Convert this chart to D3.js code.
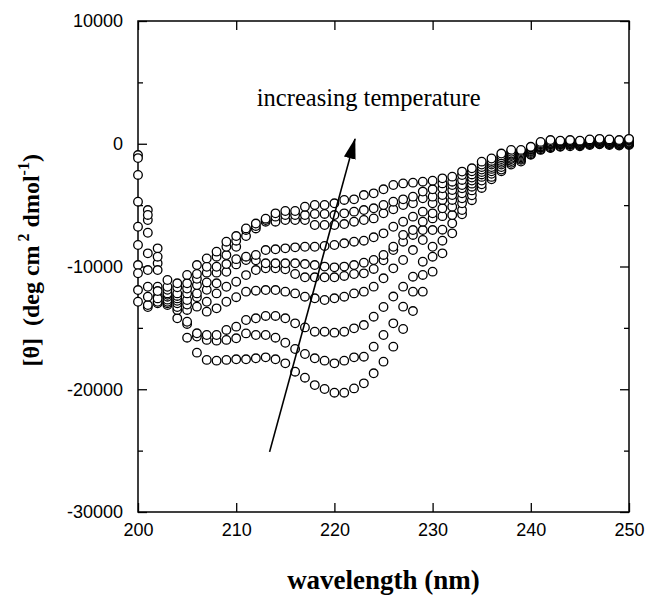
<!DOCTYPE html>
<html>
<head>
<meta charset="utf-8">
<script src="https://cdnjs.cloudflare.com/ajax/libs/d3/7.8.5/d3.min.js"></script>
<style>
body { margin: 0; background: #fff; }
text { fill: #000; }
</style>
</head>
<body>
<div id="viz"></div>
<script>
// wavelength (nm), one reading per nm
var wavelengths = [200,201,202,203,204,205,206,207,208,209,
	210,211,212,213,214,215,216,217,218,219,
	220,221,222,223,224,225,226,227,228,229,
	230,231,232,233,234,235,236,237,238,239,
	240,241,242,243,244,245,246,247,248,249,
	250];

// mean residue ellipticity, t1 = lowest temperature (bottom curve) ... t10 = highest
var t1 = [-11920,-13300,-13000,-13140,-14220,-15800,-17020,-17610,-17670,-17610,
	-17560,-17560,-17480,-17400,-17560,-17890,-18570,-19060,-19660,-19980,
	-20280,-20280,-19930,-19520,-18700,-17750,-16530,-15090,-13630,-12050,
	-10420,-8930,-7300,-5750,-4600,-3600,-2900,-2250,-1700,-1450,
	-900,-500,-350,-250,-200,-200,-100,-50,-100,-150,
	-100];
var t2 = [-12870,-13140,-12870,-13000,-13540,-14680,-15710,-15980,-16040,-15980,
	-15850,-15450,-15580,-15580,-15800,-16210,-16720,-17130,-17480,-17670,
	-17890,-17670,-17400,-17350,-16530,-15580,-14630,-13270,-12050,-10690,
	-9200,-7900,-6480,-5400,-4200,-3300,-2700,-2100,-1550,-1300,
	-850,-450,-300,-200,-100,-150,-50,0,-50,-100,
	-50];
var t3 = [-9880,-11650,-12460,-12870,-13300,-14500,-15440,-15580,-15580,-15170,
	-14900,-14360,-14220,-14030,-14030,-14220,-14630,-14960,-15310,-15310,
	-15390,-15310,-15040,-14770,-14090,-13300,-12450,-11640,-10830,-9610,
	-8390,-7000,-5810,-4850,-3800,-3000,-2450,-1900,-1400,-1200,
	-750,-350,-200,-100,-50,-100,0,50,0,-50,
	0];
var t4 = [-10550,-12460,-12600,-12700,-13000,-13540,-13270,-13680,-13410,-12870,
	-12500,-12050,-11970,-11920,-11920,-12050,-12190,-12460,-12590,-12730,
	-12590,-12460,-12190,-12050,-11640,-10960,-10150,-9470,-8660,-7840,
	-7030,-5900,-5130,-4450,-3500,-2700,-2250,-1700,-1250,-1100,
	-650,-300,-100,-50,0,-50,50,100,50,0,
	50];
var t5 = [-6760,-8930,-11650,-12460,-12800,-13100,-12500,-12870,-12190,-11650,
	-11240,-10700,-10290,-10150,-10150,-10230,-10610,-10880,-10880,-10880,
	-10880,-10770,-10610,-10560,-10200,-9500,-8660,-7980,-7430,-7030,
	-6080,-5260,-4580,-4040,-3250,-2500,-2050,-1550,-1150,-1000,
	-600,-250,-50,0,50,0,100,150,100,50,
	100];
var t6 = [-8250,-10290,-12000,-12300,-12600,-12730,-12190,-11900,-11370,-10430,
	-9830,-9470,-9500,-9740,-9740,-9740,-9740,-9800,-9880,-10010,
	-10070,-10010,-9880,-9690,-9470,-9060,-8390,-7430,-7030,-6350,
	-5670,-4580,-4180,-3630,-3000,-2300,-1900,-1400,-1000,-900,
	-500,-200,0,50,100,50,150,200,150,100,
	150];
var t7 = [-2540,-6210,-9740,-12190,-12400,-12190,-11510,-11300,-10500,-9800,
	-9400,-9200,-9060,-8660,-8600,-8520,-8440,-8390,-8390,-8330,
	-8250,-8110,-7980,-7900,-7620,-7300,-6760,-6350,-5940,-5530,
	-4850,-4180,-3770,-3360,-2750,-2100,-1700,-1250,-900,-800,
	-450,-100,50,100,150,100,200,250,200,150,
	250];
var t8 = [-4720,-7250,-10290,-11900,-12190,-11800,-11000,-10500,-10020,-9070,
	-8390,-7520,-6900,-6350,-6350,-6210,-6210,-6210,-6620,-6620,
	-6620,-6540,-6350,-6210,-6080,-5670,-5340,-4990,-4850,-4450,
	-4310,-3630,-3360,-2950,-2500,-1900,-1550,-1100,-800,-700,
	-400,-50,100,150,200,150,250,300,250,200,
	300];
var t9 = [-920,-5400,-8520,-11650,-11700,-11370,-10610,-10020,-9200,-8390,
	-7900,-7030,-6700,-6210,-5940,-5810,-5810,-5810,-5720,-5720,
	-5810,-5670,-5530,-5400,-5260,-4990,-4720,-4530,-4310,-3900,
	-3710,-3230,-3090,-2550,-2250,-1700,-1400,-950,-650,-600,
	-300,50,200,200,250,200,300,350,300,250,
	350];
var t10 = [-1170,-5800,-9200,-11100,-11370,-10690,-9880,-9340,-8790,-7980,
	-7520,-6900,-6500,-6100,-5670,-5480,-5480,-5130,-4990,-4990,
	-4850,-4580,-4530,-4180,-4040,-3710,-3360,-3230,-3170,-3090,
	-3010,-2820,-2680,-2270,-2000,-1460,-1200,-800,-500,-500,
	-250,150,300,250,300,250,350,400,350,300,
	400];

var xTicks = [200, 210, 220, 230, 240, 250];
var yTicks = [-30000, -20000, -10000, 0, 10000];
var yMinorTicks = [-25000, -15000, -5000, 5000];

// annotation arrow, in data units (wavelength, ellipticity)
var arrowFrom = [213.4, -25100];
var arrowTo = [222.1, 400];
var arrowLabel = { x: 212.1, y: 3100, text: "increasing temperature" };

var series = [t1, t2, t3, t4, t5, t6, t7, t8, t9, t10];

var W = 645, H = 596;
var margin = { top: 21, left: 138 };
var width = 491, height = 491;
var sans = "Helvetica, Arial, 'Liberation Sans', sans-serif";
var serif = "'Times New Roman', 'Liberation Serif', Times, serif";
var plain = function(d) { return String(d); };	// hyphen minus like the original

var svg = d3.select("#viz").append("svg")
	.attr("width", W)
	.attr("height", H);

var x = d3.scaleLinear().domain([200, 250]).range([margin.left, margin.left + width]);
var y = d3.scaleLinear().domain([-30000, 10000]).range([margin.top + height, margin.top]);

function styleAxis(g, labels) {
	g.select(".domain").remove();
	g.selectAll(".tick line").attr("stroke", "#000").attr("stroke-width", 1.3);
	g.selectAll(".tick text")
		.style("font-family", sans)
		.style("font-size", "18px")
		.attr("fill", "#000");
	if (!labels) g.selectAll(".tick text").remove();
}

// bottom
svg.append("g")
	.attr("transform", "translate(0," + y(-30000) + ")")
	.call(d3.axisBottom(x).tickValues(xTicks).tickSizeInner(-9).tickSizeOuter(0).tickPadding(11).tickFormat(plain))
	.call(styleAxis, true);
// top
svg.append("g")
	.attr("transform", "translate(0," + y(10000) + ")")
	.call(d3.axisTop(x).tickValues(xTicks).tickSizeInner(-9).tickSizeOuter(0))
	.call(styleAxis, false);
// left
svg.append("g")
	.attr("transform", "translate(" + x(200) + ",0)")
	.call(d3.axisLeft(y).tickValues(yTicks).tickSizeInner(-9).tickSizeOuter(0).tickPadding(15).tickFormat(plain))
	.call(styleAxis, true);
svg.append("g")
	.attr("transform", "translate(" + x(200) + ",0)")
	.call(d3.axisLeft(y).tickValues(yMinorTicks).tickSizeInner(-5).tickSizeOuter(0))
	.call(styleAxis, false);
// right
svg.append("g")
	.attr("transform", "translate(" + x(250) + ",0)")
	.call(d3.axisRight(y).tickValues(yTicks).tickSizeInner(-9).tickSizeOuter(0))
	.call(styleAxis, false);
svg.append("g")
	.attr("transform", "translate(" + x(250) + ",0)")
	.call(d3.axisRight(y).tickValues(yMinorTicks).tickSizeInner(-5).tickSizeOuter(0))
	.call(styleAxis, false);

// frame
svg.append("rect")
	.attr("x", x(200))
	.attr("y", y(10000))
	.attr("width", x(250) - x(200))
	.attr("height", y(-30000) - y(10000))
	.attr("fill", "none")
	.attr("stroke", "#000")
	.attr("stroke-width", 1.5);

// points
var groups = svg.selectAll(".curve")
	.data(series)
	.enter()
		.append("g")
			.attr("class", "curve");

groups.selectAll("circle")
	.data(function(d) { return d.map(function(v, i) { return { w: wavelengths[i], v: v }; }); })
	.enter()
		.append("circle")
			.attr("cx", function(d) { return x(d.w); })
			.attr("cy", function(d) { return y(d.v); })
			.attr("r", 4.3)
			.attr("fill", "#fff")
			.attr("stroke", "#000")
			.attr("stroke-width", 1.3);

// arrow
svg.append("defs").append("marker")
	.attr("id", "head")
	.attr("markerUnits", "userSpaceOnUse")
	.attr("viewBox", "0 -7 22 14")
	.attr("markerWidth", 22)
	.attr("markerHeight", 14)
	.attr("refX", 20)
	.attr("refY", 0)
	.attr("orient", "auto")
	.append("path")
		.attr("d", "M0,-6L21,0L0,6Z")
		.attr("fill", "#000");

svg.append("line")
	.attr("x1", x(arrowFrom[0]))
	.attr("y1", y(arrowFrom[1]))
	.attr("x2", x(arrowTo[0]))
	.attr("y2", y(arrowTo[1]))
	.attr("stroke", "#000")
	.attr("stroke-width", 1.6)
	.attr("marker-end", "url(#head)");

svg.append("text")
	.attr("x", x(arrowLabel.x))
	.attr("y", y(arrowLabel.y))
	.style("font-family", serif)
	.style("font-size", "24.5px")
	.text(arrowLabel.text);

// axis titles
svg.append("text")
	.attr("x", x(225))
	.attr("y", 589)
	.attr("text-anchor", "middle")
	.style("font-family", serif)
	.style("font-size", "27px")
	.style("font-weight", "bold")
	.text("wavelength (nm)");

var yl = svg.append("text")
	.attr("transform", "translate(39," + y(-9500) + ") rotate(-90)")
	.attr("text-anchor", "middle")
	.style("font-family", serif)
	.style("font-size", "24px")
	.style("font-weight", "bold")
	.style("white-space", "pre");
yl.append("tspan").text("[\u03b8]  (deg cm");
yl.append("tspan").attr("dx", 4).attr("dy", -10).style("font-size", "16px").text("2");
yl.append("tspan").attr("dy", 10).text(" dmol");
yl.append("tspan").attr("dy", -10).style("font-size", "16px").text("-1");
yl.append("tspan").attr("dy", 10).text(")");
</script>
</body>
</html>
